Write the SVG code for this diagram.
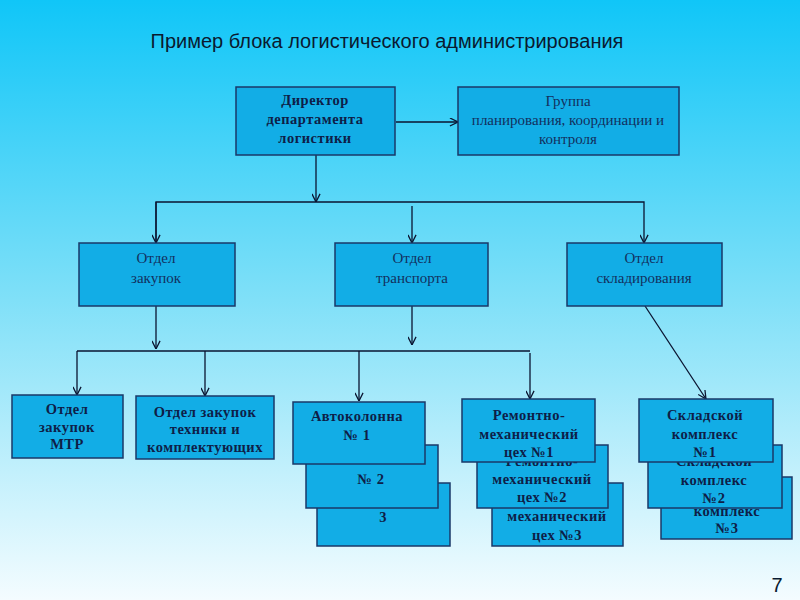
<svg xmlns="http://www.w3.org/2000/svg" width="800" height="600" viewBox="0 0 800 600">
<defs>
<linearGradient id="bg" x1="0" y1="0" x2="0" y2="1">
<stop offset="0" stop-color="#10c6f8"/>
<stop offset="0.5" stop-color="#80e0f8"/>
<stop offset="1" stop-color="#f4fcff"/>
</linearGradient>
<marker id="arr" viewBox="0 0 10 10" refX="9.5" refY="5" markerWidth="9" markerHeight="9" markerUnits="userSpaceOnUse" orient="auto">
<path d="M0.5,0.5 L9.5,5 L0.5,9.5" fill="none" stroke="#0a1430" stroke-width="1.4"/>
</marker>
<style>
.box{fill:#12ade6;stroke:#1a3868;stroke-width:1.5}
.ln{fill:none;stroke:#0a1430;stroke-width:1.3}
.b{font-family:"Liberation Serif","Times New Roman",serif;font-weight:bold;font-size:14.5px;fill:#0e1e48;text-anchor:middle;letter-spacing:0.5px}
.r{font-family:"Liberation Serif","Times New Roman",serif;font-size:15px;fill:#13305e;text-anchor:middle}
.t{font-family:"Liberation Sans",Arial,sans-serif;font-size:20px;fill:#0a1a30}
</style>
</defs>
<rect width="800" height="600" fill="url(#bg)"/>
<text class="t" x="387" y="48" text-anchor="middle">Пример блока логистического администрирования</text>
<text class="t" x="777" y="592" text-anchor="middle">7</text>

<g id="connectors">
<line class="ln" x1="396" y1="122" x2="458" y2="122" marker-end="url(#arr)"/>
<line class="ln" x1="316" y1="155" x2="316" y2="202" marker-end="url(#arr)"/>
<polyline class="ln" points="156,243 156,202 644,202 644,243" marker-end="url(#arr)"/>
<line class="ln" x1="156" y1="202" x2="156" y2="243" marker-end="url(#arr)"/>
<line class="ln" x1="412" y1="206" x2="412" y2="243" marker-end="url(#arr)"/>
<line class="ln" x1="156" y1="306" x2="156" y2="349" marker-end="url(#arr)"/>
<line class="ln" x1="412" y1="306" x2="412" y2="345" marker-end="url(#arr)"/>
<line class="ln" x1="77" y1="351" x2="530" y2="351"/>
<line class="ln" x1="77" y1="351" x2="77" y2="395" marker-end="url(#arr)"/>
<line class="ln" x1="205" y1="351" x2="205" y2="396" marker-end="url(#arr)"/>
<line class="ln" x1="359" y1="351" x2="359" y2="401" marker-end="url(#arr)"/>
<line class="ln" x1="530" y1="353" x2="530" y2="399" marker-end="url(#arr)"/>
<line class="ln" x1="645" y1="306" x2="706" y2="399" stroke-width="1" marker-end="url(#arr)"/>
</g>

<g id="director">
<rect class="box" x="236" y="87" width="159" height="68"/>
<text class="b" x="315" y="105">Директор</text>
<text class="b" x="315" y="124">департамента</text>
<text class="b" x="315" y="143">логистики</text>
</g>
<g id="group">
<rect class="box" x="458" y="87" width="221" height="68"/>
<text class="r" x="568" y="106">Группа</text>
<text class="r" x="568" y="125">планирования, координации и</text>
<text class="r" x="568" y="144">контроля</text>
</g>

<g id="zakupki">
<rect class="box" x="79" y="243" width="156" height="63"/>
<text class="r" x="156" y="263">Отдел</text>
<text class="r" x="156" y="283">закупок</text>
</g>
<g id="transport">
<rect class="box" x="335" y="243" width="153" height="63"/>
<text class="r" x="412" y="263">Отдел</text>
<text class="r" x="412" y="283">транспорта</text>
</g>
<g id="sklad">
<rect class="box" x="567" y="243" width="155" height="63"/>
<text class="r" x="644" y="263">Отдел</text>
<text class="r" x="644" y="283">складирования</text>
</g>

<g id="mtr">
<rect class="box" x="12" y="395" width="111" height="63"/>
<text class="b" x="67" y="414">Отдел</text>
<text class="b" x="67" y="432">закупок</text>
<text class="b" x="67" y="449">МТР</text>
</g>
<g id="tehnika">
<rect class="box" x="136" y="396" width="138" height="63"/>
<text class="b" x="205" y="417">Отдел закупок</text>
<text class="b" x="205" y="434">техники и</text>
<text class="b" x="205" y="452">комплектующих</text>
</g>

<g id="avto3">
<rect class="box" x="317" y="483" width="133" height="63"/>
<text class="b" x="383" y="522">3</text>
</g>
<g id="avto2">
<rect class="box" x="306" y="445" width="132" height="63"/>
<text class="b" x="371" y="484">№ 2</text>
</g>
<g id="avto1">
<rect class="box" x="293" y="402" width="132" height="62"/>
<text class="b" x="357" y="421">Автоколонна</text>
<text class="b" x="357" y="440">№ 1</text>
</g>

<g id="rmc3">
<rect class="box" x="492" y="483" width="131" height="63"/>
<text class="b" x="557" y="521">механический</text>
<text class="b" x="557" y="540">цех №3</text>
</g>
<g id="rmc2">
<rect class="box" x="477" y="445" width="131" height="63"/>
<text class="b" x="542" y="466">Ремонтно-</text>
<text class="b" x="542" y="484">механический</text>
<text class="b" x="542" y="502">цех №2</text>
</g>
<g id="rmc1">
<rect class="box" x="462" y="399" width="133" height="63"/>
<text class="b" x="529" y="420">Ремонтно-</text>
<text class="b" x="529" y="439">механический</text>
<text class="b" x="529" y="457">цех №1</text>
</g>

<g id="sk3">
<rect class="box" x="661" y="477" width="131" height="62"/>
<text class="b" x="727" y="516">комплекс</text>
<text class="b" x="727" y="533">№3</text>
</g>
<g id="sk2">
<rect class="box" x="648" y="445" width="134" height="63"/>
<text class="b" x="714" y="466">Складской</text>
<text class="b" x="714" y="485">комплекс</text>
<text class="b" x="714" y="503">№2</text>
</g>
<g id="sk1">
<rect class="box" x="639" y="399" width="134" height="63"/>
<text class="b" x="705" y="420">Складской</text>
<text class="b" x="705" y="439">комплекс</text>
<text class="b" x="705" y="457">№1</text>
</g>
</svg>
